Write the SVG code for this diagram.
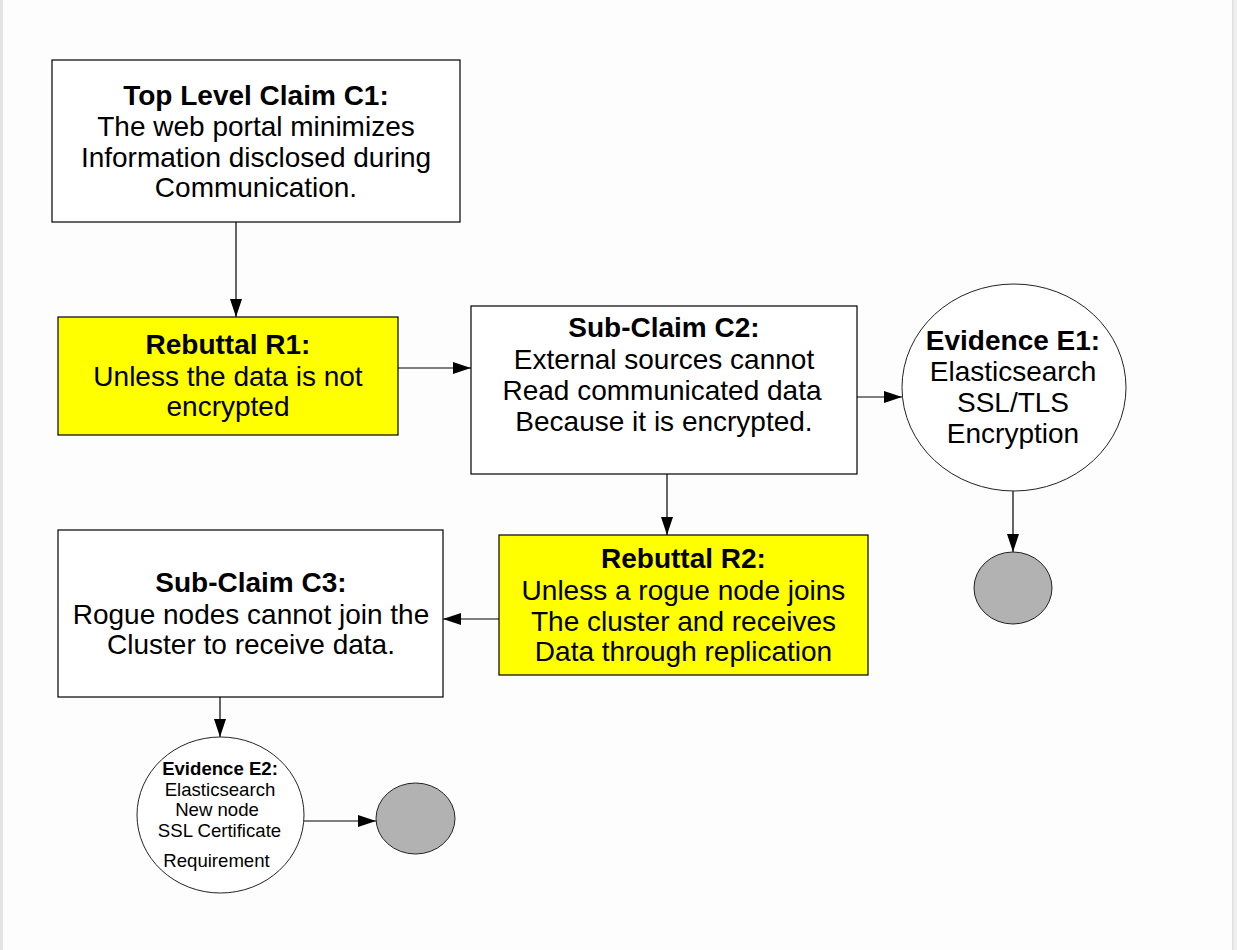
<svg xmlns="http://www.w3.org/2000/svg" width="1237" height="950" viewBox="0 0 1237 950">
<defs>
<style>
.box{fill:#ffffff;stroke:#000;stroke-width:1.2}
.reb{fill:#ffff00;stroke:#000;stroke-width:1.2}
.ev{fill:#ffffff;stroke:#222;stroke-width:1}
.end{fill:#b2b2b2;stroke:#222;stroke-width:1}
.t{font-family:"Liberation Sans",Arial,sans-serif;font-size:28px;fill:#000;text-anchor:middle}
.s{font-family:"Liberation Sans",Arial,sans-serif;font-size:18.6px;fill:#000;text-anchor:middle}
.b{font-weight:bold}
.c{fill:none;stroke:#000;stroke-width:1.2;marker-end:url(#arr)}
</style>
<marker id="arr" markerUnits="userSpaceOnUse" markerWidth="18" markerHeight="12" refX="18" refY="6" orient="auto">
<path d="M0,0 L18,6 L0,12 z" fill="#000"/>
</marker>
</defs>
<rect x="0" y="0" width="1237" height="950" fill="#fdfdfd"/>
<rect x="0" y="0" width="3" height="950" fill="#e4e4e4"/>
<rect x="1232" y="0" width="5" height="950" fill="#f0f0f0"/>
<rect x="1232" y="0" width="1.5" height="950" fill="#e0e0e0"/>

<g id="connectors">
<path class="c" d="M236,222 V317"/>
<path class="c" d="M398,368 H471"/>
<path class="c" d="M857,397 H902"/>
<path class="c" d="M1013,491 V552"/>
<path class="c" d="M667,474 V535"/>
<path class="c" d="M499,619 H443"/>
<path class="c" d="M220,697 V737"/>
<path class="c" d="M304,821 H376"/>
</g>

<g id="C1">
<rect class="box" x="52" y="60" width="408" height="162"/>
<text class="t b" x="256" y="105">Top Level Claim C1:</text>
<text class="t" x="256" y="136">The web portal minimizes</text>
<text class="t" x="256" y="167">Information disclosed during</text>
<text class="t" x="256" y="197">Communication.</text>
</g>

<g id="R1">
<rect class="reb" x="58" y="317" width="340" height="118"/>
<text class="t b" x="228" y="354">Rebuttal R1:</text>
<text class="t" x="228" y="386">Unless the data is not</text>
<text class="t" x="228" y="416">encrypted</text>
</g>

<g id="C2">
<rect class="box" x="471" y="306" width="386" height="168"/>
<text class="t b" x="664" y="337">Sub-Claim C2:</text>
<text class="t" x="664" y="369">External sources cannot</text>
<text class="t" x="662" y="400">Read communicated data</text>
<text class="t" x="664" y="431">Because it is encrypted.</text>
</g>

<g id="E1">
<ellipse class="ev" cx="1014" cy="387.5" rx="112" ry="103.5"/>
<text class="t b" x="1013" y="350">Evidence E1:</text>
<text class="t" x="1013" y="381">Elasticsearch</text>
<text class="t" x="1013" y="412">SSL/TLS</text>
<text class="t" x="1013" y="443">Encryption</text>
</g>

<g id="G1">
<ellipse class="end" cx="1013" cy="588" rx="39" ry="36"/>
</g>

<g id="R2">
<rect class="reb" x="499" y="535" width="369" height="140"/>
<text class="t b" x="683.5" y="568">Rebuttal R2:</text>
<text class="t" x="683.5" y="600">Unless a rogue node joins</text>
<text class="t" x="683.5" y="631">The cluster and receives</text>
<text class="t" x="683.5" y="661">Data through replication</text>
</g>

<g id="C3">
<rect class="box" x="58" y="530" width="385" height="167"/>
<text class="t b" x="251" y="592">Sub-Claim C3:</text>
<text class="t" x="251" y="624">Rogue nodes cannot join the</text>
<text class="t" x="251" y="654">Cluster to receive data.</text>
</g>

<g id="E2">
<ellipse class="ev" cx="220.5" cy="815" rx="83.5" ry="78"/>
<text class="s b" x="220" y="775">Evidence E2:</text>
<text class="s" x="220" y="796">Elasticsearch</text>
<text class="s" x="217" y="816">New node</text>
<text class="s" x="219.5" y="837">SSL Certificate</text>
<text class="s" x="216.5" y="867">Requirement</text>
</g>

<g id="G2">
<ellipse class="end" cx="415.5" cy="818.5" rx="39.5" ry="35.5"/>
</g>
</svg>
